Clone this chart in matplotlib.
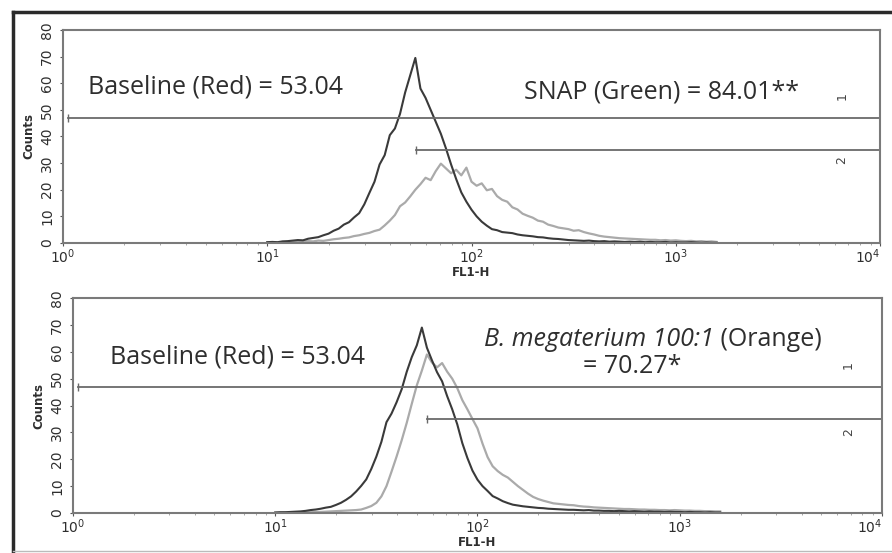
import matplotlib
matplotlib.use("Agg")
import matplotlib.pyplot as plt
import numpy as np
from matplotlib.lines import Line2D

# FL1-H channel positions (log10) of the histogram bins
log_ch = np.round(np.arange(1.0, 3.2001, 0.025), 3)

# top panel: baseline (dark) vs SNAP (light)
top_dark = [0.3, 0.4, 0.3, 0.6, 0.7, 0.9, 1.1, 1.0, 1.6, 1.9,
            2.2, 2.9, 3.5, 4.6, 5.4, 6.9, 7.8, 9.6, 11.2, 14.5,
            18.8, 23.0, 29.5, 33.0, 40.5, 43.0, 48.5, 56.5, 63.0, 69.5,
            58.0, 54.5, 50.0, 45.5, 41.0, 35.5, 29.5, 24.0, 19.0, 15.5,
            12.5, 10.0, 8.0, 6.5, 5.2, 4.8, 4.1, 3.9, 3.7, 3.2,
            2.9, 2.7, 2.5, 2.2, 2.1, 1.8, 1.6, 1.5, 1.3, 1.1,
            1.0, 0.9, 0.8, 0.9, 0.7, 0.6, 0.7, 0.5, 0.6, 0.5,
            0.4, 0.5, 0.4, 0.5, 0.3, 0.4, 0.3, 0.3, 0.4, 0.2,
            0.3, 0.2, 0.2, 0.3, 0.2, 0.1, 0.2, 0.1, 0.1]
top_light = [0.2, 0.3, 0.2, 0.4, 0.3, 0.5, 0.4, 0.6, 0.7, 0.6,
             0.9, 0.8, 1.1, 1.4, 1.6, 1.9, 2.1, 2.6, 2.9, 3.4,
             3.8, 4.5, 5.0, 6.6, 8.4, 10.5, 13.8, 15.2, 17.5, 20.0,
             22.1, 24.5, 23.6, 27.0, 29.8, 28.0, 26.2, 27.5, 25.4, 28.3,
             23.0, 21.5, 22.4, 19.8, 20.3, 17.6, 16.2, 15.5, 13.4, 12.6,
             11.0, 10.2, 9.5, 8.4, 8.0, 6.9, 6.4, 5.8, 5.5, 5.2,
             4.6, 4.8, 4.1, 3.6, 3.2, 2.7, 2.4, 2.2, 2.0, 1.8,
             1.7, 1.6, 1.5, 1.4, 1.3, 1.2, 1.2, 1.0, 1.1, 0.9,
             1.0, 0.8, 0.7, 0.8, 0.6, 0.7, 0.5, 0.6, 0.4]

# bottom panel: baseline (dark) vs B. megaterium 100:1 (light)
bot_dark = [0.2, 0.3, 0.3, 0.4, 0.5, 0.6, 0.8, 1.1, 1.3, 1.6,
            2.0, 2.3, 3.0, 3.8, 4.9, 6.2, 8.0, 10.1, 12.5, 16.4,
            21.0, 26.5, 33.8, 37.0, 41.2, 46.0, 52.5, 58.0, 62.4, 69.0,
            61.5, 56.8, 52.4, 49.0, 43.5, 38.6, 33.0, 26.0, 20.5, 15.8,
            12.4, 10.0, 8.2, 6.3, 5.4, 4.4, 3.7, 3.1, 2.8, 2.5,
            2.3, 2.1, 1.9, 1.8, 1.6, 1.5, 1.4, 1.3, 1.2, 1.2,
            1.1, 1.0, 1.1, 0.9, 0.9, 0.8, 0.8, 0.7, 0.8, 0.7,
            0.6, 0.7, 0.6, 0.5, 0.6, 0.5, 0.5, 0.4, 0.5, 0.4,
            0.4, 0.3, 0.4, 0.3, 0.3, 0.2, 0.3, 0.2, 0.2]
bot_light = [0.1, 0.1, 0.2, 0.1, 0.2, 0.2, 0.3, 0.3, 0.4, 0.4,
             0.5, 0.6, 0.7, 0.8, 0.9, 1.0, 1.1, 1.3, 1.9, 2.6,
             3.8, 6.2, 10.0, 15.4, 21.0, 27.0, 33.5, 40.6, 47.5, 53.0,
             59.0, 56.0, 54.2, 55.8, 52.6, 50.0, 46.5, 42.0, 38.6, 35.0,
             31.5, 25.8, 20.8, 17.4, 15.6, 14.2, 13.2, 11.6, 10.0, 8.6,
             7.2, 6.0, 5.2, 4.6, 4.1, 3.6, 3.4, 3.2, 3.0, 2.9,
             2.6, 2.4, 2.3, 2.1, 2.0, 1.9, 1.8, 1.7, 1.6, 1.5,
             1.5, 1.4, 1.3, 1.3, 1.2, 1.2, 1.1, 1.1, 1.0, 1.1,
             1.0, 0.9, 0.9, 0.8, 0.8, 0.7, 0.7, 0.6, 0.6]

# marker gates: (start, end, level)
top_m1 = (1.06, 10000, 47)
top_m2 = (53.7, 10000, 35)
bot_m1 = (1.06, 10000, 47)
bot_m2 = (56.0, 10000, 35)

DARK = "#3a3a3a"
LIGHT = "#aaaaaa"
TXT = "#2e2e2e"
TEXT_FONT = ["Open Sans", "DejaVu Sans"]
FS = 18

fig = plt.figure(figsize=(8.92, 5.53), dpi=100)

# outer frame of the figure panel
fig.add_artist(Line2D([0.0146, 0.0146], [0.0, 0.978], transform=fig.transFigure,
                      color="#2a2a2a", lw=2.5))
fig.add_artist(Line2D([0.0146, 1.0], [0.978, 0.978], transform=fig.transFigure,
                      color="#2a2a2a", lw=2.5))
fig.add_artist(Line2D([0.0146, 1.0], [0.004, 0.004], transform=fig.transFigure,
                      color="#bbbbbb", lw=1.0))


def setup(ax):
    ax.set_xscale("log")
    ax.set_xlim(1, 10000)
    ax.set_ylim(0, 80)
    ax.set_yticks(range(0, 81, 10))
    for s in ax.spines.values():
        s.set_color("#7a7a7a")
        s.set_linewidth(1.5)
    ax.tick_params(axis="both", colors="#555555", labelcolor=TXT, labelsize=10,
                   length=2.5, width=0.8, pad=1)
    ax.tick_params(axis="y", pad=4)
    ax.tick_params(axis="x", which="minor", length=1.5, colors="#999999")
    for lab in ax.get_yticklabels():
        lab.set_rotation(90)
        lab.set_va("center")
    ax.set_xticks([1, 10, 100, 1000, 10000])
    xl = ax.get_xticklabels()
    xl[-1].set_ha("right")  # last label sits at the figure's right edge
    ax.set_ylabel("Counts", fontsize=8.5, fontweight="bold", color=TXT, labelpad=3)
    ax.set_xlabel("FL1-H", fontsize=8.5, fontweight="bold", color=TXT, labelpad=0)


def gate(ax, g):
    ax.plot([g[0], g[1]], [g[2], g[2]], color="#6a6a6a", lw=1.3)
    ax.plot([g[0], g[1]], [g[2], g[2]], ls="none", marker="|", ms=6,
            mec="#6a6a6a", mew=1.0)


chan = 10 ** log_ch

ax1 = fig.add_axes([0.0706, 0.5606, 0.916, 0.3852])
setup(ax1)
ax1.plot(chan, top_light, color=LIGHT, lw=1.6)
ax1.plot(chan, top_dark, color=DARK, lw=1.5)
gate(ax1, top_m1)
gate(ax1, top_m2)
ax1.text(6500, 55, "1", rotation=90, fontsize=9, color="#444444", ha="center", va="center")
ax1.text(6500, 31, "2", rotation=90, fontsize=9, color="#444444", ha="center", va="center")
ax1.text(1.32, 58.6, "Baseline (Red) = 53.04", fontsize=FS, color=TXT,
         family=TEXT_FONT, va="center")
ax1.text(180, 56.7, "SNAP (Green) = 84.01**", fontsize=FS, color=TXT,
         family=TEXT_FONT, va="center")

ax2 = fig.add_axes([0.0818, 0.0723, 0.907, 0.3888])
setup(ax2)
ax2.plot(chan, bot_light, color=LIGHT, lw=1.6)
ax2.plot(chan, bot_dark, color=DARK, lw=1.5)
gate(ax2, bot_m1)
gate(ax2, bot_m2)
ax2.text(6800, 55, "1", rotation=90, fontsize=9, color="#444444", ha="center", va="center")
ax2.text(6800, 30, "2", rotation=90, fontsize=9, color="#444444", ha="center", va="center")
ax2.text(1.52, 58, "Baseline (Red) = 53.04", fontsize=FS, color=TXT,
         family=TEXT_FONT, va="center")
t_it = ax2.text(108, 64.4, "B. megaterium 100:1", fontsize=FS, color=TXT,
                family=TEXT_FONT, style="italic", va="center", ha="left")
ax2.annotate(" (Orange)", xy=(1, 0.5), xycoords=t_it, fontsize=FS, color=TXT,
             family=TEXT_FONT, va="center", ha="left")
ax2.text(580, 54.7, "= 70.27*", fontsize=FS, color=TXT, family=TEXT_FONT,
         va="center", ha="center")

fig.savefig("out.png", dpi=100)
